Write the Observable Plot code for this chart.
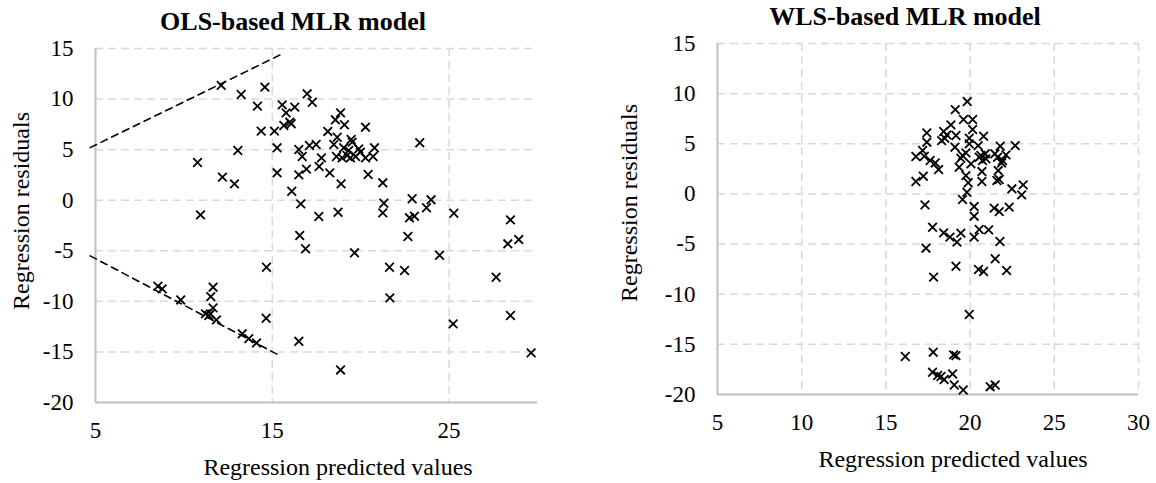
<!DOCTYPE html>
<html><head><meta charset="utf-8">
<script src="https://cdn.jsdelivr.net/npm/d3@7"></script>
<script src="https://cdn.jsdelivr.net/npm/@observablehq/plot@0.6"></script>
<style>
body{margin:0;background:#fff;}
#wrap{position:relative;width:1156px;height:483px;font-family:"Liberation Serif","Times New Roman",serif;color:#000;overflow:hidden;}
.ttl{position:absolute;font-weight:bold;font-size:26px;line-height:1;white-space:nowrap;transform:translate(-50%,-50%);}
.lbl{position:absolute;font-size:24px;line-height:1;white-space:nowrap;transform:translate(-50%,-50%);}
.rot{transform:translate(-50%,-50%) rotate(-90deg);}
.panel{position:absolute;top:0;}
</style></head>
<body><div id="wrap"></div>
<script>
// ---- data ----
const olsPredicted = [12.11,14.58,13.24,16.97,17.26,14.16,15.56,16.27,15.78,15.99,15.65,16.07,14.37,15.12,18.14,13.05,15.27,16.50,17.10,17.48,16.69,17.78,10.77,16.93,17.65,18.25,15.27,16.50,12.18,12.86,16.10,16.61,10.94,17.63,16.55,16.88,18.86,18.57,19.08,20.27,18.67,18.48,19.46,19.52,19.04,19.32,19.89,19.98,20.78,23.34,18.63,18.95,19.42,19.71,20.27,20.70,19.23,20.42,21.25,18.89,21.31,21.25,18.72,22.91,23.98,23.72,22.76,23.04,25.27,28.47,22.67,28.32,28.94,19.65,24.46,14.67,21.63,22.48,27.66,8.53,8.77,11.65,11.52,9.82,21.65,11.65,11.22,11.41,11.50,11.84,14.65,28.47,25.23,13.30,13.67,14.11,16.50,29.64,18.86];
const olsResiduals = [11.35,11.18,10.45,10.52,9.69,9.30,9.43,9.20,8.64,7.72,7.39,7.56,6.83,6.83,6.80,4.92,5.18,5.01,5.41,5.51,4.32,4.19,3.73,3.07,3.33,2.70,2.71,2.51,2.28,1.62,0.89,-0.36,-1.45,-1.61,-3.49,-4.80,8.64,7.95,7.46,7.22,6.23,5.51,6.00,5.74,5.18,4.92,5.08,4.75,5.18,5.68,4.32,4.19,4.19,4.32,4.19,4.32,4.42,2.54,1.72,1.62,-0.30,-1.25,-1.19,0.14,0.04,-0.75,-1.74,-1.58,-1.29,-1.94,-3.59,-4.31,-3.89,-5.20,-5.44,-6.63,-6.63,-6.95,-7.62,-8.51,-8.77,-8.60,-9.53,-9.86,-9.66,-10.64,-11.24,-11.40,-11.24,-11.83,-11.67,-11.40,-12.23,-13.21,-13.68,-14.11,-13.95,-15.09,-16.78];

const wlsPredicted = [19.83,19.12,19.61,20.15,20.15,18.86,18.43,17.43,18.62,19.16,18.31,18.50,19.95,20.80,17.43,19.10,19.95,20.48,21.79,22.68,17.18,16.78,17.28,17.63,17.93,18.13,19.55,19.75,19.45,20.64,20.90,20.74,20.94,20.05,20.54,21.47,21.63,21.87,22.13,21.93,19.35,20.70,21.67,19.75,16.78,17.22,19.89,20.70,21.59,21.73,22.48,23.15,23.06,19.81,19.55,17.32,20.24,20.24,21.43,21.73,22.32,17.77,18.43,18.80,19.22,19.45,20.24,20.54,21.10,21.77,17.38,21.49,19.16,20.50,20.80,22.17,17.83,19.95,16.15,17.81,19.02,19.16,17.77,18.07,18.27,18.46,18.96,19.06,19.59,21.19,21.49];
const wlsResiduals = [9.21,8.41,7.42,7.42,6.42,6.89,6.22,6.09,5.89,5.83,5.32,5.55,5.55,5.75,5.16,4.66,4.99,4.82,4.76,4.82,4.33,3.73,3.76,3.33,3.09,2.43,3.83,4.09,3.56,3.83,4.00,3.33,3.50,3.00,3.66,4.00,3.66,3.09,3.89,3.33,2.66,2.23,2.33,1.83,1.24,1.77,1.11,1.24,1.34,1.44,0.51,0.90,-0.09,0.17,-0.56,-1.09,-1.26,-2.22,-1.42,-1.76,-1.32,-3.32,-3.88,-4.31,-4.81,-3.91,-4.31,-3.55,-3.58,-4.74,-5.41,-6.47,-7.21,-7.54,-7.74,-7.64,-8.30,-12.02,-16.21,-15.78,-16.05,-16.12,-17.78,-18.11,-18.21,-18.51,-17.95,-19.05,-19.55,-19.22,-19.05];

// dashed envelope lines on the OLS panel (endpoints)
const upperGuideX = [4.7, 15.6];
const upperGuideY = [5.2, 14.5];
const lowerGuideX = [4.7, 15.35];
const lowerGuideY = [-5.5, -15.3];

const yTicks = [-20,-15,-10,-5,0,5,10,15];
const olsXTicks = [5,15,25];
const wlsXTicks = [5,10,15,20,25,30];

const titles = ["OLS-based MLR model","WLS-based MLR model"];
const xLabel = "Regression predicted values";
const yLabel = "Regression residuals";

// ---- drawing ----
const GRID = "#d9d9d9", AXIS = "#bfbfbf";

function panel({xs, ys, xTicks, width, mL, mR, mT, mB, guides}) {
  const pts = xs.map((x,i)=>({x, y: ys[i]}));
  const marks = [
    Plot.ruleY(yTicks.filter(t=>t>-20), {stroke: GRID, strokeWidth: 1.5, strokeDasharray: "8,5"}),
    Plot.ruleX(xTicks.filter(t=>t>5), {stroke: GRID, strokeWidth: 1.5, strokeDasharray: "8,5"}),
    Plot.ruleX([5], {stroke: AXIS, strokeWidth: 2}),
    Plot.ruleY([-20], {stroke: AXIS, strokeWidth: 2}),
    Plot.axisX({ticks: xTicks, tickSize: 0, tickPadding: 19, fontSize: 23, label: null, tickFormat: d=>String(d)}),
    Plot.axisY({ticks: yTicks, tickSize: 0, tickPadding: 22, fontSize: 23, label: null, tickFormat: d=>String(d)})
  ];
  if (guides) {
    for (const g of guides) {
      const d = g.x.map((x,i)=>({x, y: g.y[i]}));
      marks.push(Plot.line(d, {x:"x", y:"y", stroke:"#000", strokeWidth:1.6, strokeDasharray:"7,5"}));
    }
  }
  marks.push(Plot.dot(pts, {x:"x", y:"y", symbol:"times", r:4, stroke:"#000", strokeWidth:1.8}));
  return Plot.plot({
    width, height: 483,
    marginLeft: mL, marginRight: mR, marginTop: mT, marginBottom: mB,
    x: {domain: [5,30]},
    y: {domain: [-20,15]},
    style: {fontFamily: '"Liberation Serif","Times New Roman",serif', fontSize: "23px", color: "#000", background: "transparent", overflow: "visible"},
    marks
  });
}

const wrap = document.getElementById("wrap");
const p1 = panel({xs: olsPredicted, ys: olsResiduals, xTicks: olsXTicks, width: 560, mL: 95, mR: 23, mT: 48, mB: 81,
  guides: [{x: upperGuideX, y: upperGuideY}, {x: lowerGuideX, y: lowerGuideY}]});
p1.classList.add("panel"); p1.style.left = "0px";
wrap.appendChild(p1);
const p2 = panel({xs: wlsPredicted, ys: wlsResiduals, xTicks: wlsXTicks, width: 556, mL: 117, mR: 18, mT: 43, mB: 89});
p2.classList.add("panel"); p2.style.left = "600px";
wrap.appendChild(p2);

function addText(cls, text, x, y) {
  const d = document.createElement("div");
  d.className = cls; d.textContent = text;
  d.style.left = x + "px"; d.style.top = y + "px";
  wrap.appendChild(d);
}
addText("ttl", titles[0], 293, 22);
addText("ttl", titles[1], 905, 17);
addText("lbl", xLabel, 338, 467);
addText("lbl", xLabel, 953, 459);
addText("lbl rot", yLabel, 21, 211);
addText("lbl rot", yLabel, 629, 203);
</script>
</body></html>
